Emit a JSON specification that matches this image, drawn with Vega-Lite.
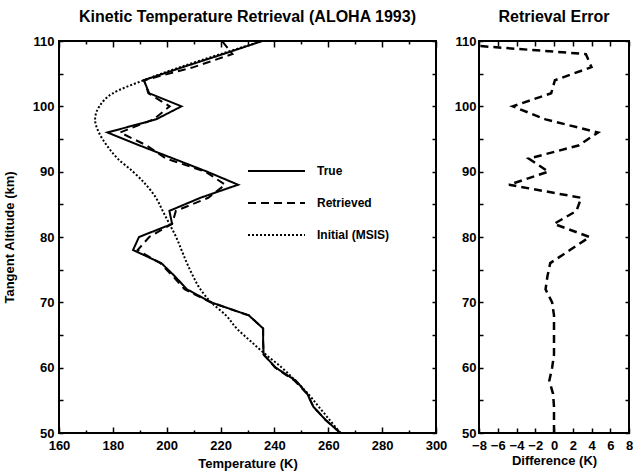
{
  "$schema": "https://vega.github.io/schema/vega-lite/v6.json",
  "background": "white",
  "padding": {"left": 2, "top": 8, "right": 0, "bottom": 0},
  "spacing": 5,
  "config": {
    "view": {"stroke": "black", "strokeWidth": 2},
    "font": "Liberation Sans",
    "axis": {
      "domain": false,
      "grid": false,
      "tickColor": "black",
      "tickWidth": 1.5,
      "labelFont": "Liberation Sans",
      "labelFontWeight": "bold",
      "labelFontSize": 13,
      "labelColor": "black",
      "labelFlush": false,
      "labelOverlap": false,
      "titleFont": "Liberation Sans",
      "titleFontWeight": "bold",
      "titleFontSize": 13,
      "titleColor": "black"
    },
    "title": {"font": "Liberation Sans", "fontWeight": "bold", "fontSize": 16, "color": "black", "offset": 10}
  },
  "datasets": {
    "profiles": [
      {"alt": 50, "True": 264.5, "Retrieved": 264.5, "Initial (MSIS)": 264.5, "diff": 0},
      {"alt": 52, "True": 259, "Retrieved": 259, "Initial (MSIS)": 260.5, "diff": 0},
      {"alt": 54, "True": 254.5, "Retrieved": 254.5, "Initial (MSIS)": 256.5, "diff": 0},
      {"alt": 56, "True": 252.2, "Retrieved": 252.1, "Initial (MSIS)": 252.5, "diff": -0.1},
      {"alt": 58, "True": 248, "Retrieved": 247.5, "Initial (MSIS)": 247.8, "diff": -0.5},
      {"alt": 60, "True": 240.5, "Retrieved": 240.3, "Initial (MSIS)": 242.8, "diff": -0.2},
      {"alt": 62, "True": 236, "Retrieved": 236, "Initial (MSIS)": 236.8, "diff": 0},
      {"alt": 64, "True": 235.8, "Retrieved": 235.8, "Initial (MSIS)": 231.3, "diff": 0},
      {"alt": 66, "True": 235.8, "Retrieved": 235.8, "Initial (MSIS)": 226, "diff": 0},
      {"alt": 68, "True": 230.5, "Retrieved": 230.5, "Initial (MSIS)": 222, "diff": 0},
      {"alt": 70, "True": 216.5, "Retrieved": 216.3, "Initial (MSIS)": 216.5, "diff": -0.2},
      {"alt": 72, "True": 207.5, "Retrieved": 206.6, "Initial (MSIS)": 212.5, "diff": -0.9},
      {"alt": 74, "True": 203, "Retrieved": 202.3, "Initial (MSIS)": 209.8, "diff": -0.7},
      {"alt": 76, "True": 198, "Retrieved": 197.6, "Initial (MSIS)": 207.5, "diff": -0.4},
      {"alt": 78, "True": 187.5, "Retrieved": 189.2, "Initial (MSIS)": 205.5, "diff": 1.7},
      {"alt": 80, "True": 189.7, "Retrieved": 193.5, "Initial (MSIS)": 203.5, "diff": 3.8},
      {"alt": 82, "True": 202, "Retrieved": 202, "Initial (MSIS)": 201, "diff": 0},
      {"alt": 84, "True": 201, "Retrieved": 203.4, "Initial (MSIS)": 198.5, "diff": 2.4},
      {"alt": 86, "True": 212.5, "Retrieved": 215.4, "Initial (MSIS)": 196, "diff": 2.9},
      {"alt": 88, "True": 226.5, "Retrieved": 221.7, "Initial (MSIS)": 192.3, "diff": -4.8},
      {"alt": 90, "True": 215, "Retrieved": 214.4, "Initial (MSIS)": 187.5, "diff": -0.6},
      {"alt": 92, "True": 202.5, "Retrieved": 199.8, "Initial (MSIS)": 181.8, "diff": -2.7},
      {"alt": 94, "True": 190, "Retrieved": 192.6, "Initial (MSIS)": 177.8, "diff": 2.6},
      {"alt": 96, "True": 178, "Retrieved": 182.7, "Initial (MSIS)": 174.8, "diff": 4.7},
      {"alt": 98, "True": 196, "Retrieved": 195.1, "Initial (MSIS)": 173.4, "diff": -0.9},
      {"alt": 100, "True": 205.5, "Retrieved": 201.1, "Initial (MSIS)": 175, "diff": -4.4},
      {"alt": 102, "True": 193.5, "Retrieved": 193.2, "Initial (MSIS)": 180, "diff": -0.3},
      {"alt": 104, "True": 191.5, "Retrieved": 191.6, "Initial (MSIS)": 191.5, "diff": 0.1},
      {"alt": 106, "True": 206, "Retrieved": 210, "Initial (MSIS)": 205, "diff": 4.0},
      {"alt": 108, "True": 221, "Retrieved": 224.4, "Initial (MSIS)": 220, "diff": 3.4},
      {"alt": 110, "True": 235.5, "Retrieved": 220.5, "Initial (MSIS)": 235.5, "diff": -15}
    ]
  },
  "hconcat": [
    {
      "width": 377,
      "height": 392,
      "title": "Kinetic Temperature Retrieval (ALOHA 1993)",
      "data": {"name": "profiles"},
      "layer": [
        {
          "transform": [{"fold": ["True", "Retrieved"], "as": ["series", "temp"]}],
          "mark": {"type": "line", "strokeWidth": 2, "color": "black"},
          "encoding": {
            "x": {
              "field": "temp", "type": "quantitative",
              "scale": {"domain": [160, 300], "nice": false, "zero": false},
              "axis": {
                "title": "Temperature (K)",
                "values": [160, 170, 180, 190, 200, 210, 220, 230, 240, 250, 260, 270, 280, 290, 300],
                "labelExpr": "datum.value % 20 === 0 ? datum.label : ''",
                "tickSize": {"condition": {"test": "datum.value % 20 !== 0", "value": -3}, "value": -6},
                "labelPadding": 12,
                "titlePadding": 2
              }
            },
            "y": {
              "field": "alt", "type": "quantitative",
              "scale": {"domain": [50, 110], "nice": false, "zero": false},
              "axis": {
                "title": "Tangent Altitude (km)",
                "values": [50, 55, 60, 65, 70, 75, 80, 85, 90, 95, 100, 105, 110],
                "labelExpr": "datum.value % 10 === 0 ? datum.label : ''",
                "tickSize": -4,
                "labelPadding": 9,
                "titlePadding": 16
              }
            },
            "strokeDash": {
              "field": "series", "type": "nominal",
              "scale": {"domain": ["True", "Retrieved", "Initial (MSIS)"], "range": [[1, 0], [8, 5], [2, 2]]},
              "legend": {
                "orient": "none",
                "legendX": 188,
                "legendY": 120,
                "title": null,
                "padding": 0,
                "symbolType": "stroke",
                "symbolSize": 3249,
                "symbolStrokeWidth": 2,
                "symbolStrokeColor": "black",
                "clipHeight": 20,
                "rowPadding": 12,
                "labelOffset": 11,
                "labelFont": "Liberation Sans",
                "labelFontWeight": "bold",
                "labelFontSize": 12,
                "labelColor": "black"
              }
            },
            "order": {"field": "alt", "type": "quantitative"}
          }
        },
        {
          "transform": [{"fold": ["Initial (MSIS)"], "as": ["series", "temp"]}],
          "mark": {"type": "line", "strokeWidth": 2, "color": "black", "interpolate": "cardinal"},
          "encoding": {
            "x": {"field": "temp", "type": "quantitative", "scale": {"domain": [160, 300], "nice": false, "zero": false}, "axis": null},
            "y": {"field": "alt", "type": "quantitative", "scale": {"domain": [50, 110], "nice": false, "zero": false}, "axis": null},
            "strokeDash": {"field": "series", "type": "nominal"},
            "order": {"field": "alt", "type": "quantitative"}
          }
        },
        {
          "mark": {"type": "point", "opacity": 0, "clip": true},
          "encoding": {
            "x": {
              "field": "True", "type": "quantitative",
              "scale": {"domain": [160, 300], "nice": false, "zero": false},
              "axis": {
                "orient": "top", "title": null, "labels": false,
                "values": [160, 170, 180, 190, 200, 210, 220, 230, 240, 250, 260, 270, 280, 290, 300],
                "tickSize": {"condition": {"test": "datum.value % 20 !== 0", "value": -3}, "value": -6}
              }
            },
            "y": {
              "field": "alt", "type": "quantitative",
              "scale": {"domain": [50, 110], "nice": false, "zero": false},
              "axis": {
                "orient": "right", "title": null, "labels": false,
                "values": [50, 55, 60, 65, 70, 75, 80, 85, 90, 95, 100, 105, 110],
                "tickSize": -4
              }
            }
          }
        }
      ],
      "resolve": {"axis": {"x": "independent", "y": "independent"}}
    },
    {
      "width": 150,
      "height": 392,
      "title": "Retrieval Error",
      "data": {"name": "profiles"},
      "layer": [
        {
          "mark": {"type": "line", "strokeWidth": 2.5, "strokeDash": [8, 5], "color": "black", "clip": true},
          "encoding": {
            "x": {
              "field": "diff", "type": "quantitative",
              "scale": {"domain": [-8, 8], "nice": false, "zero": false},
              "axis": {
                "title": "Difference (K)",
                "values": [-8, -6, -4, -2, 0, 2, 4, 6, 8],
                "tickSize": -5,
                "labelPadding": 11,
                "titlePadding": 2
              }
            },
            "y": {
              "field": "alt", "type": "quantitative",
              "scale": {"domain": [50, 110], "nice": false, "zero": false},
              "axis": {
                "title": null,
                "values": [50, 55, 60, 65, 70, 75, 80, 85, 90, 95, 100, 105, 110],
                "labelExpr": "datum.value % 10 === 0 ? datum.label : ''",
                "tickSize": -4,
                "labelPadding": 7
              }
            },
            "order": {"field": "alt", "type": "quantitative"}
          }
        },
        {
          "mark": {"type": "point", "opacity": 0, "clip": true},
          "encoding": {
            "x": {
              "field": "diff", "type": "quantitative",
              "scale": {"domain": [-8, 8], "nice": false, "zero": false},
              "axis": {"orient": "top", "title": null, "labels": false, "values": [-8, -6, -4, -2, 0, 2, 4, 6, 8], "tickSize": -5}
            },
            "y": {
              "field": "alt", "type": "quantitative",
              "scale": {"domain": [50, 110], "nice": false, "zero": false},
              "axis": {"orient": "right", "title": null, "labels": false, "values": [50, 55, 60, 65, 70, 75, 80, 85, 90, 95, 100, 105, 110], "tickSize": -4}
            }
          }
        }
      ],
      "resolve": {"axis": {"x": "independent", "y": "independent"}}
    }
  ]
}
